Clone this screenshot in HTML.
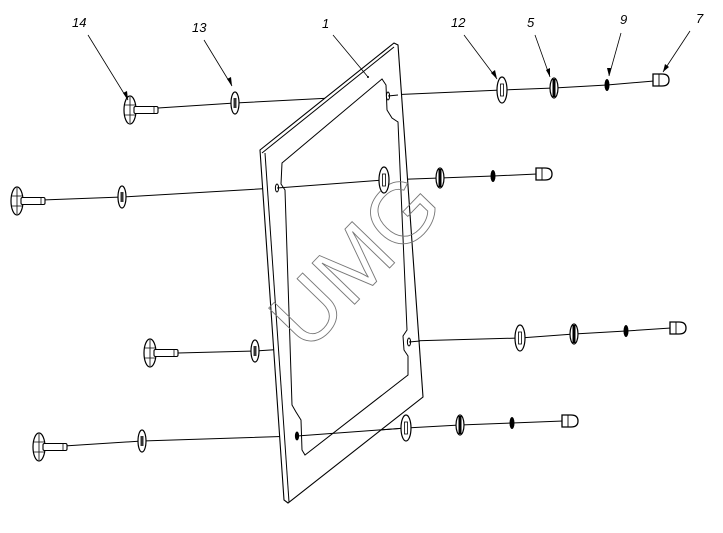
<!DOCTYPE html>
<html><head><style>body{margin:0;background:#fff}svg{display:block}</style></head><body>
<svg width="723" height="533" viewBox="0 0 723 533" xmlns="http://www.w3.org/2000/svg" font-family="Liberation Sans, sans-serif">
<defs>
<g id="bolt"><ellipse cx="0" cy="0" rx="6" ry="14" fill="#fff" stroke="#000" stroke-width="1.2"/><path d="M-5,-5 L5,-5 M-5,5 L5,5 M0,-13 L0,13" stroke="#000" stroke-width="0.8"/><rect x="4" y="-3.5" width="24" height="7" rx="1.5" fill="#fff" stroke="#000" stroke-width="1.1"/><line x1="24" y1="-3.5" x2="24" y2="3.5" stroke="#000" stroke-width="0.8"/></g>
<g id="wbig"><ellipse cx="0" cy="0" rx="5" ry="13" fill="#fff" stroke="#000" stroke-width="1.2"/><rect x="-1.5" y="-6" width="3" height="12" fill="#fff" stroke="#000" stroke-width="0.8"/></g>
<g id="wsm"><ellipse cx="0" cy="0" rx="4" ry="11" fill="#fff" stroke="#000" stroke-width="1.2"/><rect x="-1.5" y="-5" width="3" height="10" fill="#333"/></g>
<g id="spring"><ellipse cx="0" cy="0" rx="4" ry="10" fill="#fff" stroke="#000" stroke-width="1.2"/><path d="M0,-9 L0,9" stroke="#000" stroke-width="3"/></g>
<g id="lock"><ellipse cx="0" cy="0" rx="2.5" ry="6" fill="#000"/></g>
<g id="nut"><path d="M-7,-6 L2,-6 Q9,-6 9,0 Q9,6 2,6 L-7,6 Z" fill="#fff" stroke="#000" stroke-width="1.3"/><line x1="-1" y1="-6" x2="-1" y2="6" stroke="#000" stroke-width="0.9"/></g>
</defs>
<g stroke="#000" stroke-width="1" fill="none">
<polyline points="158,108 235,103 388,95 502,90 554,88 607,85 654,81"/>
<polyline points="42,200 122,197 276,188 384,180 440,178 493,176 537,174"/>
<polyline points="178,353 255,351 409,341 520,338 574,334 626,331 671,328"/>
<polyline points="64,446 142,441 297,436 406,428 460,425 512,423 563,421"/>
</g>
<g stroke="#000" stroke-width="1.1" fill="#fff">
<path d="M260,150 L394,43 L398,45 L423,397 L288,503 L284,500 Z"/>
</g>
<g stroke="#000" stroke-width="1" fill="none">
<path d="M262,153 L394,47"/>
<path d="M265,153 L289,502"/>
<path d="M282,163 L382,79 L386,85 L387,110 L392,118 L398,122 L407,330 L403,336 L404,350 L408,356 L408,375 L305,455 L302,450 L301,420 L296,412 L292,405 L285,190 L281,184 Z" fill="#fff"/>
<ellipse cx="388" cy="96" rx="1.6" ry="4" fill="#fff"/>
<ellipse cx="277" cy="188" rx="1.6" ry="4"/>
<ellipse cx="409" cy="342" rx="1.6" ry="4"/>
<ellipse cx="297" cy="436" rx="1.6" ry="4" fill="#000"/>
</g>
<g stroke="#000" stroke-width="1" fill="none">
<line x1="277" y1="188" x2="384" y2="180"/>
<line x1="297" y1="436" x2="406" y2="428"/>
<line x1="388" y1="96" x2="398" y2="95"/>
<line x1="409" y1="342" x2="420" y2="341"/>
</g>
<text x="0" y="0" transform="translate(360,266) rotate(-46)" text-anchor="middle" dominant-baseline="middle" font-size="86" fill="none" stroke="#777" stroke-width="0.9" font-family="Liberation Sans, sans-serif">UMG</text>
<use href="#bolt" x="130" y="110"/><use href="#wsm" x="235" y="103"/><use href="#wbig" x="502" y="90"/><use href="#spring" x="554" y="88"/><use href="#lock" x="607" y="85"/><use href="#nut" x="660" y="80"/>
<use href="#bolt" x="17" y="201"/><use href="#wsm" x="122" y="197"/><use href="#wbig" x="384" y="180"/><use href="#spring" x="440" y="178"/><use href="#lock" x="493" y="176"/><use href="#nut" x="543" y="174"/>
<use href="#bolt" x="150" y="353"/><use href="#wsm" x="255" y="351"/><use href="#wbig" x="520" y="338"/><use href="#spring" x="574" y="334"/><use href="#lock" x="626" y="331"/><use href="#nut" x="677" y="328"/>
<use href="#bolt" x="39" y="447"/><use href="#wsm" x="142" y="441"/><use href="#wbig" x="406" y="428"/><use href="#spring" x="460" y="425"/><use href="#lock" x="512" y="423"/><use href="#nut" x="569" y="421"/>
<g stroke="#000" stroke-width="0.8">
<line x1="88" y1="35" x2="128" y2="100"/><line x1="204" y1="40" x2="232" y2="86"/><line x1="333" y1="35" x2="368" y2="77"/>
<line x1="464" y1="35" x2="497" y2="79"/><line x1="535" y1="35" x2="550" y2="77"/><line x1="621" y1="33" x2="609" y2="76"/><line x1="690" y1="31" x2="663" y2="72"/>
</g>
<g fill="#000">
<path d="M128,100 L123,93 L127,91 Z"/><path d="M232,86 L227,79 L231,77 Z"/><path d="M497,79 L491,73 L495,70 Z"/><path d="M550,77 L546,70 L550,68 Z"/><path d="M609,76 L607,68 L611,68 Z"/><path d="M663,72 L665,64 L669,67 Z"/>
<circle cx="368" cy="77" r="1"/>
</g>
<g font-size="13" font-style="italic" fill="#000">
<text x="72" y="27">14</text><text x="192" y="32">13</text><text x="322" y="28">1</text><text x="451" y="27">12</text><text x="527" y="27">5</text><text x="620" y="24">9</text><text x="696" y="23">7</text>
</g>
</svg>
</body></html>
